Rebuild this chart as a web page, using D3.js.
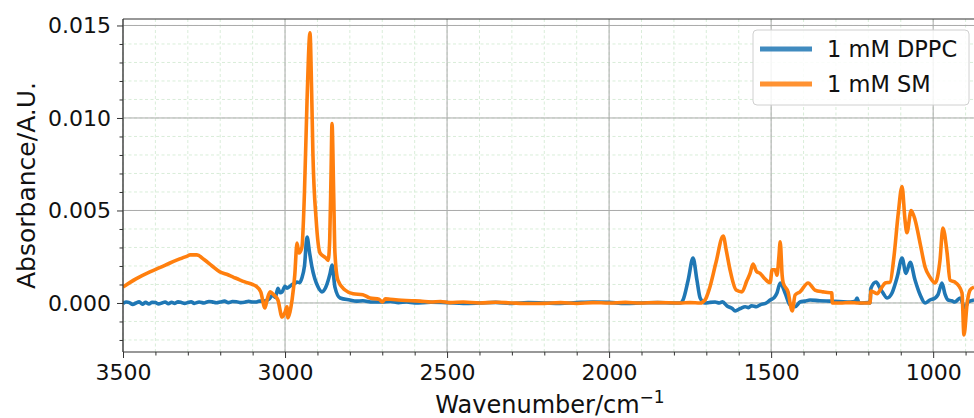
<!DOCTYPE html>
<html><head><meta charset="utf-8">
<script src="https://cdn.jsdelivr.net/npm/d3@7"></script>
<style>body{margin:0;background:#fff}svg{display:block}text{font-family:"DejaVu Sans",sans-serif}</style>
</head><body><svg id="c" width="974" height="418"></svg>
<script>
// Data (wavenumber cm^-1, absorbance x 1e-3)
const seriesNames = ["1 mM DPPC", "1 mM SM"];
const seriesColors = ["#1f77b4", "#ff7f0e"];
const xTicks = [3500, 3000, 2500, 2000, 1500, 1000];
const yTicks = [0.000, 0.005, 0.010, 0.015];
const dppc = [
[3500,-0.03],[3490,0.05],[3480,0.02],[3470,-0.08],[3460,0.0],[3450,0.06],[3440,-0.06],[3430,0.03],[3420,-0.05],[3410,0.04],[3400,0.02],[3390,-0.05],[3380,0.0],[3370,0.05],[3360,-0.04],[3350,0.04],[3340,-0.02],[3330,0.06],[3320,0.03],[3310,-0.02],[3300,0.02],[3290,0.07],[3280,-0.02],[3265,0.05],[3250,0.0],[3235,0.08],[3225,0.06],[3212,0.01],[3200,0.05],[3187,0.1],[3175,0.02],[3162,0.08],[3150,0.07],[3137,0.02],[3125,0.04],[3112,0.09],[3100,0.05],[3090,0.05],[3080,0.1],[3070,0.1],[3060,0.12],[3050,0.2],[3043,0.35],[3037,0.43],[3030,0.3],[3022,0.8],[3015,0.55],[3009,0.6],[3000,0.9],[2994,0.8],[2985,0.9],[2978,1.0],[2970,1.05],[2963,1.13],[2955,1.1],[2948,1.35],[2940,2.0],[2932,3.57],[2925,2.8],[2917,1.95],[2898,0.86],[2886,0.6],[2874,0.86],[2861,1.6],[2855,2.05],[2846,0.86],[2830,0.27],[2800,0.16],[2780,0.1],[2760,0.12],[2730,0.05],[2700,0.05],[2675,0.08],[2650,0.02],[2625,0.05],[2600,0.0],[2550,0.04],[2500,0.02],[2450,-0.02],[2400,0.0],[2350,0.03],[2300,-0.03],[2250,0.02],[2200,0.0],[2150,-0.02],[2100,0.02],[2050,0.05],[2000,0.03],[1950,-0.02],[1900,0.0],[1850,0.02],[1800,0.0],[1781,0.0],[1772,0.16],[1756,1.24],[1741,2.43],[1729,1.24],[1719,0.27],[1704,0.0],[1690,0.03],[1673,0.05],[1660,0.0],[1650,0.06],[1636,-0.16],[1620,-0.3],[1611,-0.43],[1595,-0.3],[1580,-0.2],[1570,-0.25],[1560,-0.15],[1545,-0.2],[1534,-0.1],[1515,0.0],[1503,0.16],[1490,0.3],[1482,0.54],[1472,1.08],[1457,0.54],[1442,-0.1],[1426,-0.2],[1411,0.05],[1395,0.1],[1380,0.16],[1350,0.12],[1318,0.1],[1290,0.08],[1256,0.05],[1240,0.1],[1235,0.27],[1230,0.05],[1225,0.0],[1200,0.02],[1195,0.0],[1192,0.8],[1176,1.13],[1164,0.8],[1155,0.55],[1142,0.27],[1127,0.54],[1111,1.4],[1096,2.43],[1084,1.6],[1071,2.2],[1056,1.24],[1040,0.43],[1025,0.0],[1010,0.16],[994,0.27],[985,0.45],[973,1.08],[963,0.45],[954,0.16],[943,0.12],[933,0.05],[917,0.27],[902,-0.27],[892,0.05],[874,0.16]
];
const sm = [
[3500,0.86],[3460,1.3],[3417,1.68],[3385,1.92],[3355,2.16],[3325,2.38],[3300,2.55],[3293,2.6],[3272,2.6],[3250,2.35],[3225,2.0],[3201,1.68],[3180,1.55],[3160,1.4],[3140,1.25],[3124,1.14],[3100,1.0],[3090,0.92],[3075,0.6],[3062,-0.27],[3055,0.2],[3046,0.6],[3035,0.45],[3022,0.16],[3009,-0.76],[3000,-0.5],[2994,-0.2],[2991,-0.8],[2985,-0.5],[2978,0.2],[2970,1.5],[2963,3.24],[2957,2.7],[2948,3.0],[2940,6.0],[2932,11.0],[2923,14.6],[2918,11.5],[2914,8.1],[2904,4.5],[2892,2.7],[2874,2.43],[2867,2.3],[2862,3.5],[2858,7.0],[2855,9.7],[2850,6.0],[2846,2.7],[2837,1.24],[2815,0.7],[2790,0.5],[2760,0.45],[2738,0.27],[2710,0.2],[2700,0.05],[2690,0.22],[2676,0.2],[2640,0.15],[2610,0.12],[2583,0.1],[2550,0.05],[2520,0.08],[2491,0.02],[2450,0.05],[2400,0.0],[2350,0.04],[2300,0.0],[2250,-0.03],[2200,-0.02],[2150,0.02],[2100,-0.03],[2050,0.02],[2000,0.0],[1950,0.03],[1905,0.0],[1850,0.02],[1781,0.0],[1750,0.02],[1719,0.0],[1704,0.16],[1690,0.8],[1670,2.2],[1648,3.62],[1638,2.8],[1627,1.8],[1608,0.7],[1590,0.6],[1575,1.2],[1565,1.6],[1556,2.1],[1545,1.7],[1534,1.6],[1519,1.3],[1503,1.1],[1497,1.8],[1488,1.8],[1482,1.5],[1476,2.5],[1472,3.3],[1466,1.5],[1463,1.1],[1448,0.6],[1435,-0.43],[1426,0.43],[1411,0.6],[1386,1.08],[1365,0.7],[1340,0.6],[1318,0.55],[1313,0.55],[1311,0.0],[1287,0.0],[1256,0.02],[1230,0.0],[1195,0.0],[1192,0.65],[1173,0.5],[1160,0.8],[1148,1.08],[1133,1.13],[1121,2.5],[1108,4.8],[1096,6.3],[1087,4.5],[1081,3.8],[1068,5.0],[1056,4.5],[1040,3.2],[1025,1.95],[1010,1.4],[994,1.08],[979,2.3],[970,4.05],[957,2.7],[948,1.24],[933,1.13],[923,0.97],[911,0.54],[905,-1.73],[895,0.0],[886,0.7],[874,0.86]
];

const svg = d3.select("#c");
const L = 123, R = 974, T = 19, B = 352;
const x = d3.scaleLinear().domain([3500, 874]).range([L, R]);
const y = d3.scaleLinear().domain([-0.00265, 0.01535]).range([B, T]);

// minor grid
const xMinor = d3.range(3500, 870, -100);
const yMinor = d3.range(-0.002, 0.0155, 0.001);
const g = svg.append("g");
g.selectAll(".xm").data(xMinor).join("line")
  .attr("x1", d => x(d)).attr("x2", d => x(d)).attr("y1", T).attr("y2", B)
  .attr("stroke", "#cfe8cf").attr("stroke-width", 0.8).attr("stroke-dasharray", "3,2.5");
g.selectAll(".ym").data(yMinor).join("line")
  .attr("x1", L).attr("x2", R).attr("y1", d => y(d)).attr("y2", d => y(d))
  .attr("stroke", "#cfe8cf").attr("stroke-width", 0.8).attr("stroke-dasharray", "3,2.5");
// major grid
g.selectAll(".xM").data(xTicks).join("line")
  .attr("x1", d => x(d)).attr("x2", d => x(d)).attr("y1", T).attr("y2", B)
  .attr("stroke", "#aaaaaa").attr("stroke-width", 1);
g.selectAll(".yM").data(yTicks).join("line")
  .attr("x1", L).attr("x2", R).attr("y1", d => y(d)).attr("y2", d => y(d))
  .attr("stroke", "#aaaaaa").attr("stroke-width", 1);

svg.append("clipPath").attr("id", "clip").append("rect")
  .attr("x", L).attr("y", T).attr("width", R - L).attr("height", B - T);

const line = d3.line().x(d => x(d[0])).y(d => y(d[1] * 1e-3)).curve(d3.curveMonotoneX);
[dppc, sm].forEach((s, i) => {
  svg.append("path").datum(s).attr("d", line).attr("fill", "none")
    .attr("stroke", seriesColors[i]).attr("stroke-width", 3.6)
    .attr("stroke-linejoin", "round").attr("clip-path", "url(#clip)");
});

// axes
const xAxis = d3.axisBottom(x).tickValues(xTicks).tickSize(6).tickPadding(6).tickFormat(d3.format("d"));
const xAxisMinor = d3.axisBottom(x).tickValues(xMinor.filter(v => !xTicks.includes(v))).tickSize(3.5).tickFormat("");
const yAxis = d3.axisLeft(y).tickValues(yTicks).tickSize(6).tickPadding(6).tickFormat(d3.format(".3f"));
const yAxisMinor = d3.axisLeft(y).tickValues(yMinor.filter(v => !yTicks.some(t => Math.abs(t - v) < 1e-9))).tickSize(3.5).tickFormat("");

function style(sel) {
  sel.select(".domain").remove();
  sel.selectAll("line").attr("stroke", "#333").attr("stroke-width", 1);
  sel.selectAll("text").attr("fill", "#111").style("font-size", "22px").style("font-family", "DejaVu Sans");
}
svg.append("g").attr("transform", `translate(0,${B})`).call(xAxis).call(style);
svg.append("g").attr("transform", `translate(0,${B})`).call(xAxisMinor).call(style);
svg.append("g").attr("transform", `translate(${L},0)`).call(yAxis).call(style);
svg.append("g").attr("transform", `translate(${L},0)`).call(yAxisMinor).call(style);

// spines
svg.append("line").attr("x1", L).attr("x2", R).attr("y1", T).attr("y2", T).attr("stroke", "#333").attr("stroke-width", 1.2);
svg.append("line").attr("x1", L).attr("x2", R).attr("y1", B).attr("y2", B).attr("stroke", "#333").attr("stroke-width", 1.2);
svg.append("line").attr("x1", L).attr("x2", L).attr("y1", T).attr("y2", B).attr("stroke", "#333").attr("stroke-width", 1.2);

// axis labels
const xl = svg.append("text").attr("x", 550).attr("y", 413).attr("text-anchor", "middle")
  .style("font-size", "24px").attr("fill", "#111");
xl.append("tspan").text("Wavenumber/cm");
xl.append("tspan").text("\u22121").attr("dy", -10).style("font-size", "17px");
svg.append("text").attr("transform", `translate(35,${(T + B) / 2}) rotate(-90)`)
  .attr("text-anchor", "middle").style("font-size", "25px").attr("fill", "#111").text("Absorbance/A.U.");

// legend
const lg = svg.append("g");
lg.append("rect").attr("x", 753).attr("y", 30).attr("width", 216).attr("height", 75).attr("rx", 4)
  .attr("fill", "#fff").attr("fill-opacity", 0.85).attr("stroke", "#d0d0d0");
seriesNames.forEach((n, i) => {
  const yy = 49 + i * 35;
  lg.append("line").attr("x1", 760).attr("x2", 812).attr("y1", yy).attr("y2", yy)
    .attr("stroke", seriesColors[i]).attr("stroke-width", 5).attr("stroke-opacity", 0.85);
  lg.append("text").attr("x", 827).attr("y", yy + 8).style("font-size", "22.5px").attr("fill", "#111").text(n);
});
</script></body></html>
